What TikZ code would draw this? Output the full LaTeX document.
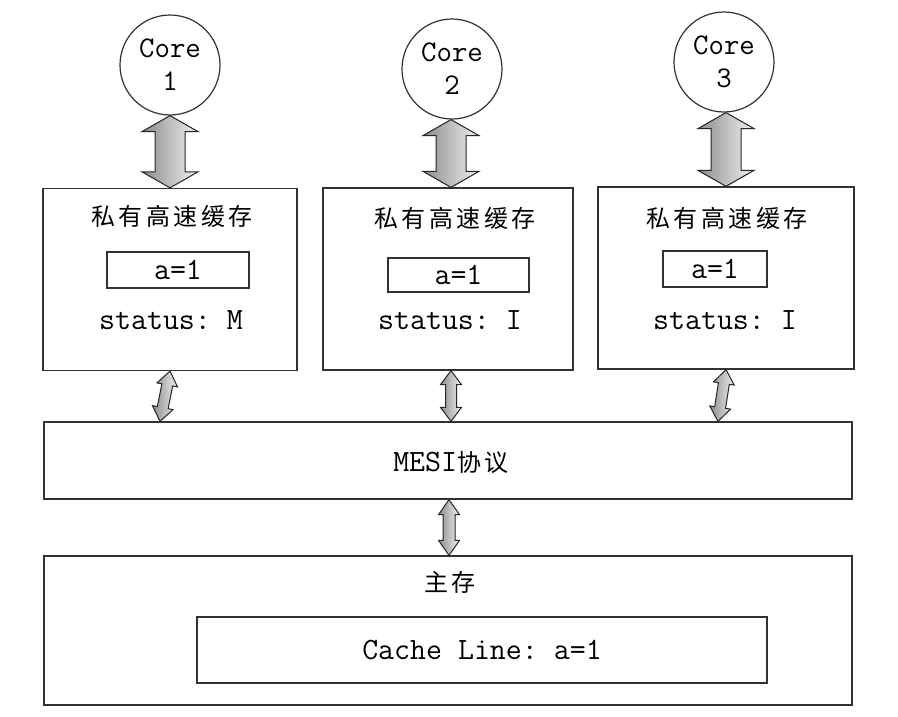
\documentclass[tikz,border=0pt]{standalone}
\usepackage{fontspec}
\newfontfamily\cjk[LetterSpace=15]{Noto Sans CJK SC}
\usetikzlibrary{calc}
\frenchspacing
\tikzset{
  box/.style={draw=black!80, line width=1.3pt, fill=white, inner sep=0pt},
  core/.style={circle, draw=black!80, line width=1.2pt, minimum size=100pt, inner sep=0pt, align=center, font=\ttfamily\fontsize{30}{33}\selectfont},
  mono/.style={font=\ttfamily\frenchspacing\fontsize{31}{34}\selectfont, inner sep=0pt},
  cjklabel/.style={font=\cjk\fontsize{24}{28}\selectfont, inner sep=0pt},
  fatarrow/.style={draw=black!85, line width=1pt, left color=black!45, right color=black!6, line join=miter},
}
% #1 start, #2 end, #3 head length, #4 half head width, #5 half shaft width
\newcommand{\dblarrow}[5]{%
  \coordinate (da1) at ($(#1)!#3!(#2)$);
  \coordinate (da2) at ($(#2)!#3!(#1)$);
  \path[fatarrow] (#1) -- ($(da1)!#4!90:(#2)$) -- ($(da1)!#5!90:(#2)$)
    -- ($(da2)!#5!-90:(#1)$) -- ($(da2)!#4!-90:(#1)$) -- (#2)
    -- ($(da2)!#4!90:(#1)$) -- ($(da2)!#5!90:(#1)$)
    -- ($(da1)!#5!-90:(#2)$) -- ($(da1)!#4!-90:(#2)$) -- cycle;
}
\begin{document}
\begin{tikzpicture}[x=1pt, y=-1pt]
\useasboundingbox[fill=white] (0,0) rectangle (898,716);

% cores
\node[core] (core1) at (170,65) {Core\\1};
\node[core] (core2) at (452,69) {Core\\2};
\node[core] (core3) at (724,62) {Core\\3};

% private caches
\node[box, minimum width=254pt, minimum height=182pt] (cache1) at (170,279.5) {};
\node[box, minimum width=250pt, minimum height=182pt] (cache2) at (448,279) {};
\node[box, minimum width=256pt, minimum height=182pt] (cache3) at (726,278) {};

\node[cjklabel] (t1) at (172,216) {私有高速缓存};
\node[cjklabel] (t2) at (455,218) {私有高速缓存};
\node[cjklabel] (t3) at (727,218) {私有高速缓存};

\node[box, minimum width=142pt, minimum height=36pt, mono] (v1) at (178,270) {a=1};
\node[box, minimum width=141pt, minimum height=34pt, mono] (v2) at (458.5,275) {a=1};
\node[box, minimum width=104pt, minimum height=36pt, mono] (v3) at (715,269) {a=1};

\node[mono] (s1) at (171,320) {status: M};
\node[mono] (s2) at (450,320) {status: I};
\node[mono] (s3) at (725,320) {status: I};

% MESI
\node[box, minimum width=808pt, minimum height=77pt] (mesi) at (448,460.5) {};
\node[mono] (mesit) at (451,462) {MESI{\cjk\fontsize{24}{28}\selectfont 协议}};

% main memory
\node[box, minimum width=808pt, minimum height=149pt] (main) at (448,630.5) {};
\node[cjklabel] (maint) at (450,582) {主存};
\node[box, minimum width=570pt, minimum height=66pt, mono] (line) at (482,650) {Cache Line: a=1};

% connector endpoints
\coordinate (c1b) at (core1.south);
\coordinate (k1t) at (core1.south |- cache1.north);
\coordinate (c2b) at ($(core2.south)+(-1,0)$);
\coordinate (k2t) at (c2b |- cache2.north);
\coordinate (c3b) at ($(core3.south)+(2,0)$);
\coordinate (k3t) at (c3b |- cache3.north);

\coordinate (k1b) at (cache1.south);
\coordinate (m1) at ($(cache1.south)+(-10,0)$);
\coordinate (m1t) at (m1 |- mesi.north);
\coordinate (k2b) at ($(cache2.south)+(3,0)$);
\coordinate (m2t) at (k2b |- mesi.north);
\coordinate (k3b) at (cache3.south);
\coordinate (m3) at ($(cache3.south)+(-8,0)$);
\coordinate (m3t) at (m3 |- mesi.north);
\coordinate (mb) at ($(mesi.south)+(1,0)$);
\coordinate (mt) at (mb |- main.north);

% big arrows
\dblarrow{c1b}{k1t}{16pt}{28pt}{15pt}
\dblarrow{c2b}{k2t}{16pt}{28pt}{15pt}
\dblarrow{c3b}{k3t}{16pt}{28pt}{15pt}

% small arrows
\dblarrow{k1b}{m1t}{14pt}{10.5pt}{5.5pt}
\dblarrow{k2b}{m2t}{14pt}{10.5pt}{5.5pt}
\dblarrow{k3b}{m3t}{14pt}{10.5pt}{5.5pt}
\dblarrow{mb}{mt}{15pt}{10.5pt}{6pt}
\end{tikzpicture}
\end{document}
